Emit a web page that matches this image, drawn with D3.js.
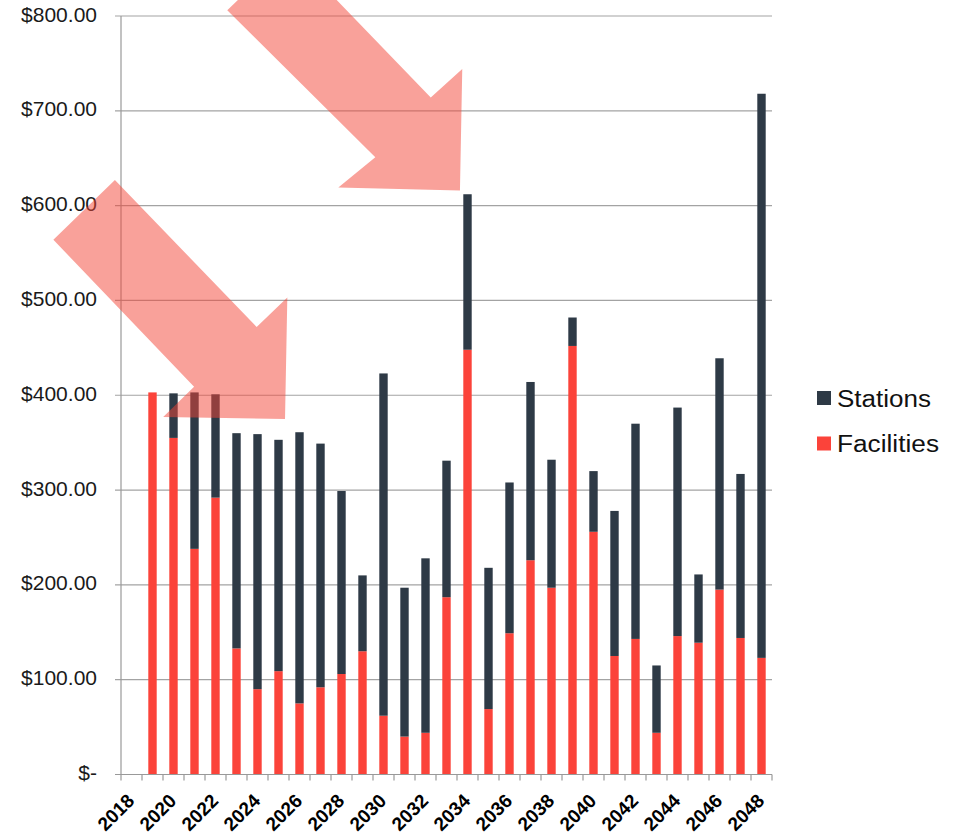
<!DOCTYPE html>
<html>
<head>
<meta charset="utf-8">
<script src="https://cdn.jsdelivr.net/npm/d3@7"></script>
<style>
  html, body { margin: 0; padding: 0; background: #fff; }
  svg { display: block; }
  text { font-family: "Liberation Sans", Arial, Helvetica, sans-serif; }
</style>
</head>
<body>
<svg id="chart" width="970" height="836"></svg>
<script>
// ---- data ----
const years = ["2018","2019","2020","2021","2022","2023","2024","2025","2026","2027","2028","2029","2030","2031","2032","2033","2034","2035","2036","2037","2038","2039","2040","2041","2042","2043","2044","2045","2046","2047","2048"];
const facilities = [0, 403, 355, 238, 292, 133, 90, 109, 75, 92, 106, 130, 62, 40, 44, 187, 448, 69, 149, 226, 197, 452, 256, 125, 143, 44, 146, 139, 195, 144, 123];
const stations   = [0, 0, 47, 165, 109, 227, 269, 244, 286, 257, 193, 80, 361, 157, 184, 144, 164, 149, 159, 188, 135, 30, 64, 153, 227, 71, 241, 72, 244, 173, 595];
const seriesNames = ["Stations", "Facilities"];
const seriesColors = ["#2E3A46", "#FB433A"];
const yTickValues = [0, 100, 200, 300, 400, 500, 600, 700, 800];
const yTickLabels = ["$-", "$100.00", "$200.00", "$300.00", "$400.00", "$500.00", "$600.00", "$700.00", "$800.00"];
const xLabelYears = ["2018","2020","2022","2024","2026","2028","2030","2032","2034","2036","2038","2040","2042","2044","2046","2048"];
// annotation arrows in (slot position, value) units
const arrowA = [[-0.29,627],[6.46,472],[7.92,503],[7.81,375],[2.01,377],[3.48,409],[-3.22,564]];
const arrowB = [[8.0,869],[14.75,714],[16.25,744],[16.14,616],[10.35,619],[12.11,651],[5.06,806]];

(function () {
// ---- layout ----
const svg = d3.select("#chart");
const mLeft = 121, mRight = 772, mTop = 16, mBottom = 774.5;

const x = d3.scaleBand().domain(years).range([mLeft, mRight]).paddingInner(0.6).paddingOuter(0.3);
const y = d3.scaleLinear().domain([0, 800]).range([mBottom, mTop]);
const slot = d3.scaleLinear().domain([0, years.length]).range([mLeft, mRight]);

// gridlines + y ticks
const gy = svg.append("g");
gy.selectAll("line.grid").data(yTickValues.filter(v => v > 0)).join("line")
  .attr("x1", mLeft - 6).attr("x2", mRight)
  .attr("y1", d => y(d)).attr("y2", d => y(d))
  .attr("stroke", "#a3a3a3").attr("stroke-width", 1.2);
gy.selectAll("text").data(yTickValues).join("text")
  .attr("x", 97).attr("y", d => y(d))
  .attr("text-anchor", "end").attr("dominant-baseline", "middle")
  .attr("font-size", 21).attr("fill", "#1a1a1a")
  .text((d, i) => yTickLabels[i]);

// stacked bars
const rows = years.map((yr, i) => ({ year: yr, Facilities: facilities[i], Stations: stations[i] }));
const stack = d3.stack().keys(["Facilities", "Stations"])(rows);
const color = d3.scaleOrdinal().domain(seriesNames).range(seriesColors);
svg.append("g").selectAll("g").data(stack).join("g")
  .attr("fill", d => color(d.key))
  .selectAll("rect").data(d => d).join("rect")
  .attr("x", d => x(d.data.year))
  .attr("width", x.bandwidth())
  .attr("y", d => y(d[1]))
  .attr("height", d => y(d[0]) - y(d[1]));

// axes lines
svg.append("line").attr("x1", mLeft).attr("x2", mLeft).attr("y1", mTop).attr("y2", mBottom)
  .attr("stroke", "#999").attr("stroke-width", 1.2);
svg.append("line").attr("x1", mLeft - 6).attr("x2", mRight).attr("y1", mBottom).attr("y2", mBottom)
  .attr("stroke", "#999").attr("stroke-width", 1.2);
// x ticks at slot boundaries
svg.append("g").selectAll("line").data(d3.range(years.length + 1)).join("line")
  .attr("x1", d => slot(d)).attr("x2", d => slot(d))
  .attr("y1", mBottom).attr("y2", mBottom + 6)
  .attr("stroke", "#999").attr("stroke-width", 1.2);
// x labels
svg.append("g").selectAll("text").data(xLabelYears).join("text")
  .attr("transform", d => `translate(${x(d) + x.bandwidth() / 2 + 4},802) rotate(-45)`)
  .attr("text-anchor", "end")
  .attr("font-size", 19).attr("font-weight", "bold").attr("fill", "#000")
  .text(d => d);

// legend
const lg = svg.append("g");
seriesNames.forEach((name, i) => {
  lg.append("rect").attr("x", 817).attr("y", 391 + i * 45.5).attr("width", 14).attr("height", 14)
    .attr("fill", seriesColors[i]);
  lg.append("text").attr("x", 837).attr("y", 406.5 + i * 45.5)
    .attr("font-size", 23).attr("fill", "#111")
    .attr("textLength", name === "Stations" ? 94 : 102).attr("lengthAdjust", "spacingAndGlyphs")
    .text(name);
});

// annotation arrows
const line = d3.line().x(d => slot(d[0])).y(d => y(d[1])).curve(d3.curveLinearClosed);
svg.append("g").selectAll("path").data([arrowA, arrowB]).join("path")
  .attr("d", line)
  .attr("fill", "#F44336").attr("fill-opacity", 0.5);
})();
</script>
</body>
</html>
